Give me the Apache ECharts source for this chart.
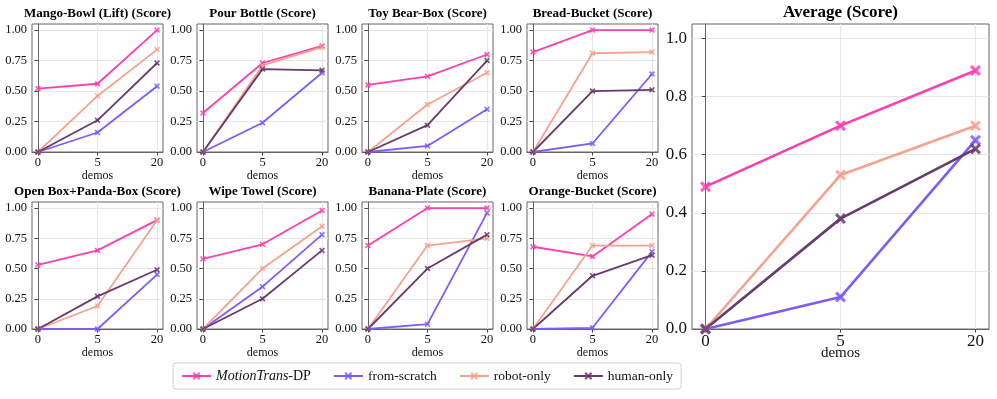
<!DOCTYPE html>
<html>
<head>
<meta charset="utf-8">
<script src="https://cdn.jsdelivr.net/npm/echarts@6/dist/echarts.min.js"></script>
<style>
  html, body { margin: 0; padding: 0; background: #fff; }
  #main { width: 997px; height: 399px; }
</style>
</head>
<body>
<div id="main"></div>
<script>
// x positions are evenly spaced categories: 0, 5, 20 demos
const demoLabels = ['0', '5', '20'];
const smallTicks = [0, 0.25, 0.5, 0.75, 1.0];
const avgTicks = [0, 0.2, 0.4, 0.6, 0.8, 1.0];

const methods = ['MotionTrans-DP', 'from-scratch', 'robot-only', 'human-only'];
const colors = ['#ff3fb0', '#7d5cff', '#f4a38f', '#693a6d'];

const panelTitles = [
  'Mango-Bowl (Lift) (Score)', 'Pour Bottle (Score)', 'Toy Bear-Box (Score)', 'Bread-Bucket (Score)',
  'Open Box+Panda-Box (Score)', 'Wipe Towel (Score)', 'Banana-Plate (Score)', 'Orange-Bucket (Score)'
];

// scores per panel, order: MotionTrans-DP, from-scratch, robot-only, human-only
const mangoBowl = [[0.52, 0.56, 1.0], [0, 0.16, 0.54], [0, 0.46, 0.84], [0, 0.26, 0.73]];
const pourBottle = [[0.32, 0.73, 0.87], [0, 0.24, 0.65], [0, 0.71, 0.86], [0, 0.68, 0.67]];
const toyBearBox = [[0.55, 0.62, 0.80], [0, 0.05, 0.35], [0, 0.39, 0.65], [0, 0.22, 0.75]];
const breadBucket = [[0.82, 1.0, 1.0], [0, 0.07, 0.64], [0, 0.81, 0.82], [0, 0.50, 0.51]];
const openBoxPanda = [[0.53, 0.65, 0.90], [0, 0, 0.45], [0, 0.19, 0.90], [0, 0.27, 0.49]];
const wipeTowel = [[0.58, 0.70, 0.98], [0, 0.35, 0.78], [0, 0.50, 0.85], [0, 0.25, 0.65]];
const bananaPlate = [[0.69, 1.0, 1.0], [0, 0.04, 0.96], [0, 0.69, 0.75], [0, 0.50, 0.78]];
const orangeBucket = [[0.68, 0.60, 0.95], [0, 0.01, 0.64], [0, 0.69, 0.69], [0, 0.44, 0.61]];
const average = [[0.49, 0.70, 0.89], [0, 0.11, 0.65], [0, 0.53, 0.70], [0, 0.38, 0.62]];

const panels = [mangoBowl, pourBottle, toyBearBox, breadBucket,
  openBoxPanda, wipeTowel, bananaPlate, orangeBucket];

const serif = 'Liberation Serif';
const xMark = 'path://M2,0L5,3L8,0L10,2L7,5L10,8L8,10L5,7L2,10L0,8L3,5L0,2Z';

const chart = echarts.init(document.getElementById('main'));

const grids = [], xAxes = [], yAxes = [], titles = [], series = [];

function addPanel(idx, box, title, data, big) {
  const fs = big ? 17 : 12.5;
  grids.push({
    left: box.left, top: box.top, width: box.width, height: box.height,
    show: true, borderColor: '#666', borderWidth: 1, backgroundColor: 'transparent'
  });
  xAxes.push({
    type: 'value', gridIndex: idx, min: -0.1, max: 2.1,
    name: 'demos', nameLocation: 'middle', nameGap: big ? 17 : 14,
    nameMoveOverlap: !big,
    nameTextStyle: { fontFamily: serif, fontSize: big ? 15 : 12, color: '#111' },
    axisLine: { show: true, onZero: false, lineStyle: { color: '#666' } },
    axisTick: { show: true, length: 3.5, customValues: [0, 1, 2], lineStyle: { color: '#444' } },
    axisLabel: {
      customValues: [0, 1, 2], margin: 4,
      fontFamily: serif, fontSize: fs, color: '#111',
      formatter: v => demoLabels[Math.round(v)]
    },
    splitLine: { show: true, lineStyle: { color: '#e6e6e6' } }
  });
  const ticks = big ? avgTicks : smallTicks;
  yAxes.push({
    type: 'value', gridIndex: idx, min: 0, max: 1.05,
    axisLine: { show: true, lineStyle: { color: '#666' } },
    axisTick: { show: true, length: 3.5, customValues: ticks, lineStyle: { color: '#444' } },
    axisLabel: {
      customValues: ticks, margin: 5,
      fontFamily: serif, fontSize: fs, color: '#111',
      formatter: v => v.toFixed(big ? 1 : 2)
    },
    splitLine: { show: true, lineStyle: { color: '#e6e6e6' } }
  });
  titles.push({
    text: title, left: box.left + box.width / 2, top: box.titleTop,
    textAlign: 'center', padding: 0,
    textStyle: { fontFamily: serif, fontWeight: 'bold', fontSize: big ? 17 : 13, color: '#000' }
  });
  data.forEach((vals, m) => {
    series.push({
      name: methods[m], type: 'line', xAxisIndex: idx, yAxisIndex: idx,
      data: vals.map((v, i) => [i, v]),
      symbol: xMark, symbolSize: big ? 11 : 6,
      color: colors[m],
      lineStyle: { width: big ? 2.6 : 1.8, color: colors[m] },
      itemStyle: { color: colors[m], opacity: 0.85 },
      animation: false
    });
  });
}

const colLefts = [32, 197, 362, 527];
const rows = [{ top: 24, height: 128, titleTop: 7 }, { top: 202, height: 127, titleTop: 185 }];
panels.forEach((data, p) => {
  const r = rows[Math.floor(p / 4)];
  addPanel(p, { left: colLefts[p % 4], top: r.top, width: 131, height: r.height, titleTop: r.titleTop },
    panelTitles[p], data, false);
});
addPanel(8, { left: 692, top: 24, width: 297, height: 305, titleTop: 4 }, 'Average (Score)', average, true);

chart.setOption({
  animation: false,
  title: titles,
  grid: grids,
  xAxis: xAxes,
  yAxis: yAxes,
  legend: {
    data: methods, left: 173, top: 363,
    padding: [6, 8], itemWidth: 29, itemHeight: 10, itemGap: 22,
    borderColor: '#d0d0d0', borderWidth: 1, borderRadius: 3,
    textStyle: {
      fontFamily: serif, fontSize: 13.5, color: '#111',
      rich: {
        i: { fontFamily: serif, fontSize: 14, fontStyle: 'italic', color: '#111' },
        n: { fontFamily: serif, fontSize: 14, color: '#111' }
      }
    },
    formatter: name => name === 'MotionTrans-DP' ? '{i|MotionTrans}{n|-DP}' : name
  },
  series: series
});
</script>
</body>
</html>
